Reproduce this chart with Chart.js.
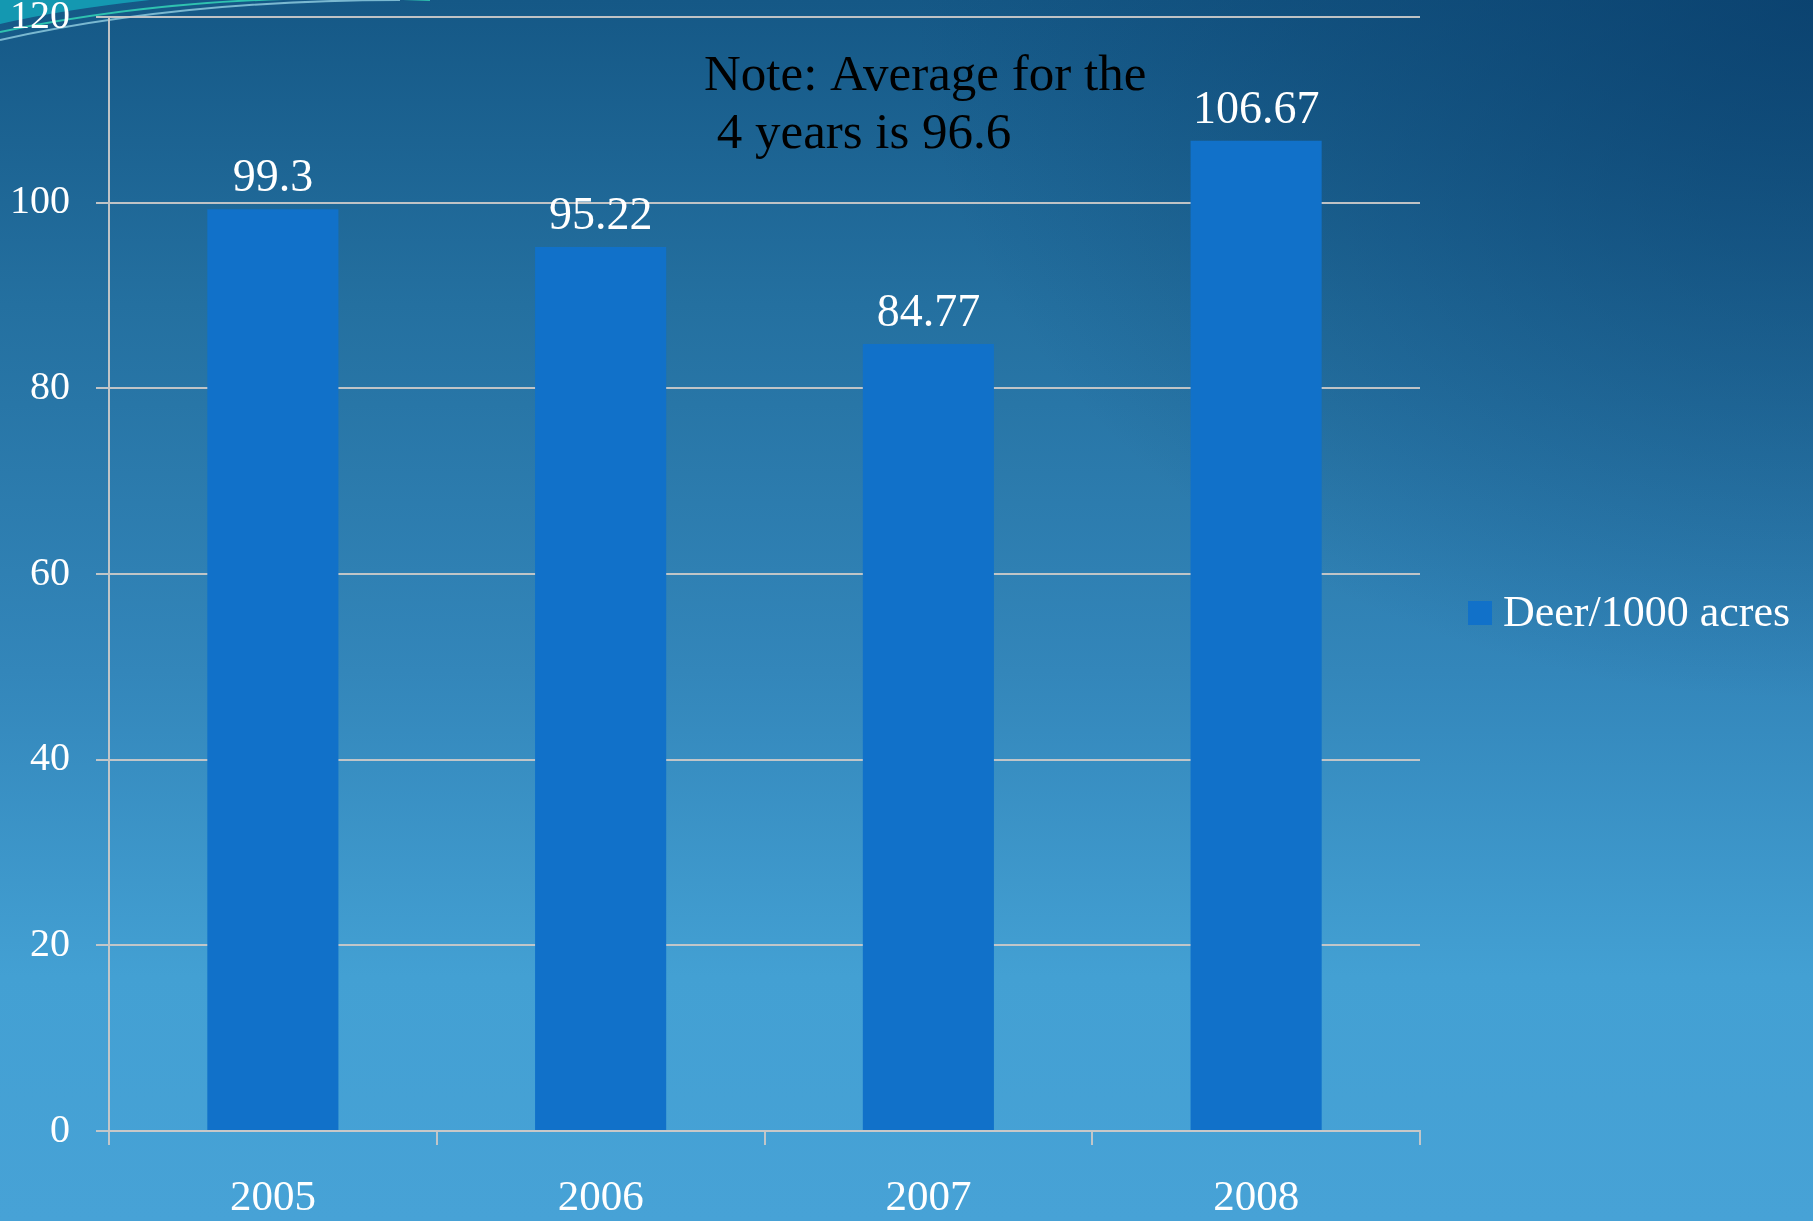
<!DOCTYPE html>
<html lang="en">
<head>
<meta charset="utf-8">
<title>Deer per 1000 acres</title>
<script src="https://cdn.jsdelivr.net/npm/chart.js@4/dist/chart.umd.min.js"></script>
<style>
  html, body {
    margin: 0;
    padding: 0;
    width: 1813px;
    height: 1221px;
    overflow: hidden;
  }
  body {
    position: relative;
    background:
      radial-gradient(ellipse 900px 700px at 1813px 0px, rgba(8, 60, 105, 0.75), rgba(8, 60, 105, 0) 100%),
      linear-gradient(to bottom, #155886 0%, #2470a0 25%, #3386ba 55%, #43a0d3 80%, #47a2d6 100%);
  }
  #deco {
    position: absolute;
    left: 0;
    top: 0;
  }
  #wrap {
    position: absolute;
    left: 0;
    top: 0;
    width: 1813px;
    height: 1221px;
  }
</style>
</head>
<body>
<svg id="deco" width="500" height="60" viewBox="0 0 500 60">
  <path d="M0,0 L150,0 Q60,10 0,24 Z" fill="#14a3b8" opacity="0.85"/>
  <path d="M0,32 Q200,-10 430,0" stroke="#2fc2b0" stroke-width="2" fill="none"/>
  <path d="M0,40 Q180,0 400,0" stroke="#7ab8d0" stroke-width="2" fill="none"/>
</svg>
<div id="wrap"><canvas id="myChart"></canvas></div>
<script>
  // data
  const years = ['2005', '2006', '2007', '2008'];
  const deerPerAcres = [99.3, 95.22, 84.77, 106.67];
  const valueLabels = ['99.3', '95.22', '84.77', '106.67'];
  const seriesName = 'Deer/1000 acres';
  const noteLines = ['Note: Average for the', ' 4 years is 96.6'];

  const serif = "'Liberation Serif', 'DejaVu Serif', serif";
  const barColor = '#1171c9';
  const lineColor = 'rgba(200, 200, 200, 0.95)';

  // labels over bars, note text and the legend on the right
  const extras = {
    id: 'extras',
    afterDatasetsDraw(chart) {
      const ctx = chart.ctx;
      const meta = chart.getDatasetMeta(0);
      ctx.save();
      ctx.fillStyle = '#ffffff';
      ctx.font = '46px ' + serif;
      ctx.textAlign = 'center';
      ctx.textBaseline = 'alphabetic';
      meta.data.forEach(function (bar, i) {
        ctx.fillText(valueLabels[i], bar.x, bar.y - 18);
      });

      // note
      ctx.fillStyle = '#000000';
      ctx.font = '51px ' + serif;
      ctx.textAlign = 'left';
      ctx.fillText(noteLines[0], 704, 90);
      ctx.fillText(noteLines[1], 704, 148);

      // legend (sits a bit below the middle of the plot)
      const area = chart.chartArea;
      const legY = (area.top + area.bottom) / 2 + 39;
      ctx.fillStyle = barColor;
      ctx.fillRect(1468, legY - 12, 24, 24);
      ctx.fillStyle = '#ffffff';
      ctx.font = '44px ' + serif;
      ctx.textBaseline = 'middle';
      ctx.fillText(seriesName, 1503, legY + 1);
      ctx.restore();
    }
  };

  function createChart() {
    const ctx = document.getElementById('myChart');
    window.chart = new Chart(ctx, {
      type: 'bar',
      data: {
        labels: years,
        datasets: [{
          label: seriesName,
          data: deerPerAcres,
          backgroundColor: barColor,
          borderWidth: 0,
          categoryPercentage: 0.4,
          barPercentage: 1.0
        }]
      },
      options: {
        responsive: true,
        maintainAspectRatio: false,
        animation: false,
        layout: {
          padding: { top: 17, right: 393, bottom: 0, left: 0 }
        },
        plugins: {
          legend: { display: false },
          tooltip: { enabled: false }
        },
        scales: {
          x: {
            offset: true,
            grid: {
              offset: true,
              drawOnChartArea: false,
              drawTicks: true,
              tickLength: 14,
              color: lineColor,
              lineWidth: 2
            },
            border: { color: lineColor, width: 2 },
            ticks: {
              color: '#ffffff',
              font: { family: serif, size: 43 },
              padding: 28
            },
            afterFit(scale) {
              scale.height = 90;
              scale.paddingLeft = 0;
              scale.paddingRight = 0;
            }
          },
          y: {
            min: 0,
            max: 120,
            ticks: {
              stepSize: 20,
              color: '#ffffff',
              font: { family: serif, size: 40 },
              padding: 26
            },
            grid: {
              color: lineColor,
              lineWidth: 2,
              tickLength: 13
            },
            border: { color: lineColor, width: 2 },
            afterFit(scale) {
              scale.width = 109;
              // let the 120 label hang over the top edge like the original
              scale.paddingTop = 0;
              scale.paddingBottom = 0;
            }
          }
        }
      },
      plugins: [extras]
    });
  }

  createChart();
</script>
</body>
</html>
